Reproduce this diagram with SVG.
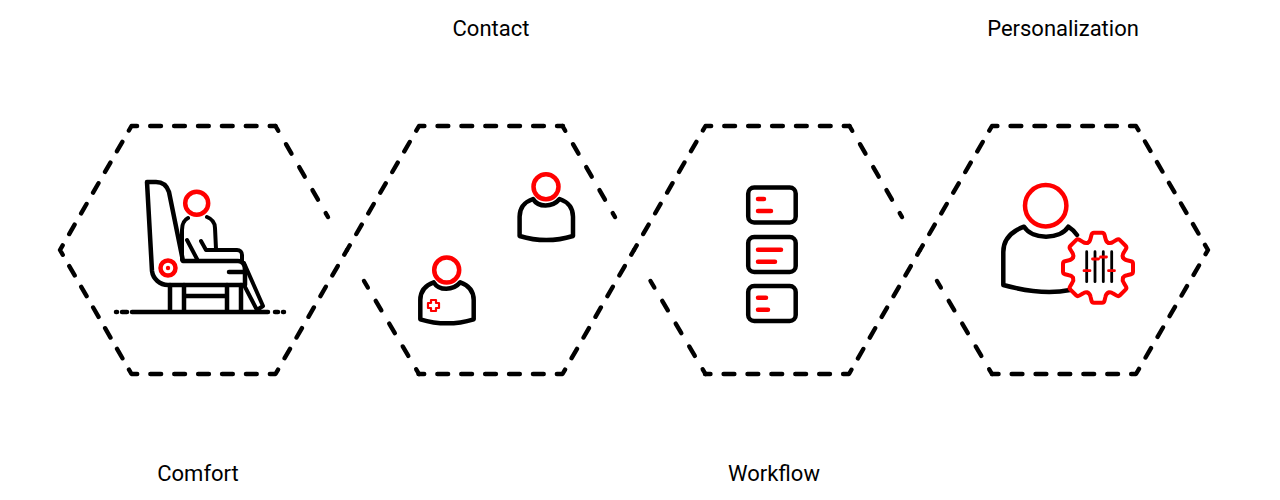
<svg xmlns="http://www.w3.org/2000/svg" xmlns:xlink="http://www.w3.org/1999/xlink" width="1280" height="500" viewBox="0 0 1280 500">
<style>
.hex{fill:none;stroke:#000;stroke-width:4.4;stroke-linecap:round;stroke-linejoin:round;stroke-dasharray:10.800 13.100;stroke-dashoffset:5.400}
.stub{fill:none;stroke:#000;stroke-width:4.4;stroke-linecap:round;stroke-dasharray:11 15.500;stroke-dashoffset:5.500}
.k{fill:none;stroke:#000;stroke-width:4.500;stroke-linecap:round;stroke-linejoin:round}
.r{fill:none;stroke:#f00;stroke-width:4.500;stroke-linecap:round;stroke-linejoin:round}
.t{font-family:Roboto,sans-serif;font-size:22px;fill:#000;text-anchor:middle}
</style>
<defs>
<path id="body" d="M-13.300 12.300C-8 21 6 21 13.300 12.300C21 15 26.700 21 26.700 30V49.300C8 55 -8 55 -26.700 49.300V30C-26.700 21 -21 15 -13.300 12.300Z"/>
<path id="tooth" d="M-10.300-24.900Q-8-26-7.500-29L-6.500-33Q-6-35-4-35H4Q6-35 6.500-33L7.500-29Q8-26 10.300-24.900"/>
</defs>
<g id="comfort">
<path class="hex" d="M347 250L275.500 374H131.500L60 250L131.500 126H275.500"/>
<path class="stub" d="M275.500 126L328 217"/>
<path class="k" d="M147 182H156C163 182 167 186 169 192L183 261M147 182L152 271C153 279 160 285 168 285H245M183 261H238C243 261 245 265 245 270V285M229 272H245"/>
<path class="k" d="M170 285V312M184 285V312M227 285V312M241 285V312M184 296H227M132 312H268M116 312H117M122 312H127M275 312H278M283 312H284"/>
<path class="k" d="M244 263L263 306L257 310L244 285M188 218C184 220 182 225 182 230V260M207 217C212 219 215 223 215 228L216 249M201 241L206 250H237C240 250 242 252 242 255V261M187 240L197 259" style="stroke-width:4"/>
<circle class="r" cx="196.700" cy="203.300" r="11.500"/>
<circle class="r" cx="168" cy="268" r="7.500"/>
<circle cx="168" cy="268" r="2.200" fill="#f00"/>
<text class="t" x="198" y="481">Comfort</text>
</g>
<g id="contact">
<path class="hex" d="M347 250L419 126H563"/>
<path class="hex" d="M634 250L562.500 374H418.500"/>
<path class="stub" d="M562.500 126L615 217"/>
<path class="stub" d="M419 374L364 281"/>
<use href="#body" class="k" x="546.300" y="186.700"/>
<circle class="r" cx="546" cy="186.700" r="12.500"/>
<use href="#body" class="k" x="447" y="270"/>
<circle class="r" cx="446.700" cy="270" r="12.500"/>
<path d="M431 300H436V303H439V308H436V311H431V308H428V303H431Z" fill="none" stroke="#f00" stroke-width="2.200" stroke-linejoin="round"/>
<text class="t" x="491" y="36">Contact</text>
</g>
<g id="workflow">
<path class="hex" d="M634 250L705.500 126H849.500"/>
<path class="hex" d="M920 250L849 374H705"/>
<path class="stub" d="M849.500 126L902 217"/>
<path class="stub" d="M705.500 374L650.500 281"/>
<rect class="k" x="748.200" y="187.500" width="47.500" height="35" rx="6"/>
<rect class="k" x="748.200" y="237" width="47.500" height="35" rx="6"/>
<rect class="k" x="748.200" y="286" width="47.500" height="35" rx="6"/>
<path class="r" d="M758 199H764M758 211H771M758 249.700H781M758 261.700H775M758 297.700H766M758 309.700H768"/>
<text class="t" x="774" y="481">Workflow</text>
</g>
<g id="personalization">
<path class="hex" d="M920 250L992 126H1136L1208 250L1136 374H992"/>
<path class="stub" d="M992 374L937 281"/>
<path class="k" d="M1077 235C1074 231 1072 229 1068.300 226.700C1060 240 1032 240 1024 226.700C1010 232 1003.300 240 1003.300 252V285C1025 291 1050 294 1070 290"/>
<circle class="r" cx="1045.700" cy="205.700" r="20.700"/>
<g transform="translate(1098 267.700)" fill="none" stroke="#f00" stroke-width="4" stroke-linecap="round">
<circle r="27" fill="#fff" stroke="none"/>
<use href="#tooth"/>
<use href="#tooth" transform="rotate(45)"/>
<use href="#tooth" transform="rotate(90)"/>
<use href="#tooth" transform="rotate(135)"/>
<use href="#tooth" transform="rotate(180)"/>
<use href="#tooth" transform="rotate(225)"/>
<use href="#tooth" transform="rotate(270)"/>
<use href="#tooth" transform="rotate(315)"/>
</g>
<path d="M1086.700 251.700V281.700M1095 251.700V281.700M1103.300 251.700V281.700M1111.700 251.700V281.700" stroke="#000" stroke-width="2.800" stroke-linecap="round"/>
<path d="M1084 270.700H1090M1092.500 259H1098.500M1100.500 257H1106.500M1108.500 270.700H1114.500" stroke="#f00" stroke-width="2.800" stroke-linecap="round"/>
<text class="t" x="1063" y="36">Personalization</text>
</g>
</svg>
